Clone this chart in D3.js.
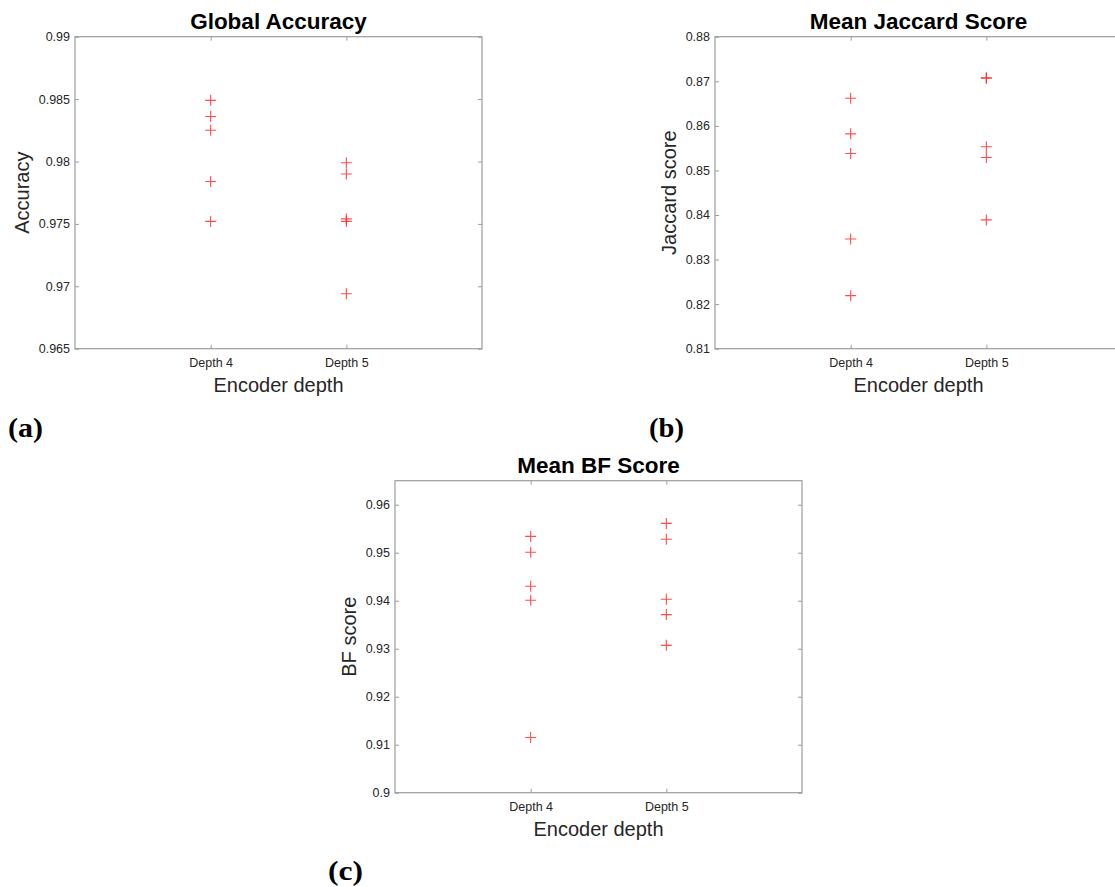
<!DOCTYPE html>
<html>
<head>
<meta charset="utf-8">
<script src="https://cdn.jsdelivr.net/npm/d3@7"></script>
<style>
  body { margin: 0; background: #fff; }
  svg { display: block; }
</style>
</head>
<body>
<script>
const width = 1115;
const height = 887;

// categories and read-off values
const categories = ["Depth 4", "Depth 5"];

const accuracyDepth4 = [0.9849, 0.9836, 0.9825, 0.9784, 0.9752];
const accuracyDepth5 = [0.9799, 0.9790, 0.9754, 0.9752, 0.9694];
const accuracyTicks = [0.965, 0.97, 0.975, 0.98, 0.985, 0.99];

const jaccardDepth4 = [0.8662, 0.8582, 0.8538, 0.8346, 0.8219];
const jaccardDepth5 = [0.8708, 0.8707, 0.8553, 0.8529, 0.8389];
const jaccardTicks = [0.81, 0.82, 0.83, 0.84, 0.85, 0.86, 0.87, 0.88];

const bfDepth4 = [0.9534, 0.9501, 0.9430, 0.9401, 0.9115];
const bfDepth5 = [0.9561, 0.9528, 0.9403, 0.9371, 0.9307];
const bfTicks = [0.9, 0.91, 0.92, 0.93, 0.94, 0.95, 0.96];

const panels = [
  {left: 75, top: 36.7, title: "Global Accuracy", ylabel: "Accuracy",
   ylim: [0.965, 0.99], ticks: accuracyTicks, series: [accuracyDepth4, accuracyDepth5],
   tag: "(a)", tagX: 8, tagY: 437},
  {left: 715, top: 36.7, title: "Mean Jaccard Score", ylabel: "Jaccard score",
   ylim: [0.81, 0.88], ticks: jaccardTicks, series: [jaccardDepth4, jaccardDepth5],
   tag: "(b)", tagX: 649, tagY: 437},
  {left: 395, top: 480.7, title: "Mean BF Score", ylabel: "BF score",
   ylim: [0.9, 0.965], ticks: bfTicks, series: [bfDepth4, bfDepth5],
   tag: "(c)", tagX: 328, tagY: 880}
];

const plotW = 407;
const plotH = 312;
const axisGray = "#262626";
const boxGray = "#9c9c9c";

let svg = d3.select("body").append("svg")
  .attr("width", width)
  .attr("height", height)
  .style("font-family", "'Liberation Sans', Arial, sans-serif");

panels.forEach(function(p) {
  let g = svg.append("g").attr("transform", `translate(${p.left},${p.top})`);

  let x = d3.scalePoint().domain(categories).range([0, plotW]).padding(1);
  let y = d3.scaleLinear().domain(p.ylim).range([plotH, 0]);

  // axes (ticks point inward like matlab)
  let yAxis = g.append("g")
    .call(d3.axisLeft(y).tickValues(p.ticks).tickFormat(d3.format("~g"))
      .tickSizeInner(-4).tickSizeOuter(0).tickPadding(5));
  g.append("g").attr("transform", `translate(${plotW},0)`)
    .call(d3.axisRight(y).tickValues(p.ticks).tickFormat("")
      .tickSizeInner(-4).tickSizeOuter(0));
  g.append("g").attr("transform", `translate(0,${plotH})`)
    .call(d3.axisBottom(x).tickSizeInner(-4).tickSizeOuter(0).tickPadding(9));
  g.append("g")
    .call(d3.axisTop(x).tickFormat("").tickSizeInner(-4).tickSizeOuter(0));

  g.selectAll(".domain").remove();
  g.selectAll(".tick line").attr("stroke", boxGray);
  g.selectAll(".tick text")
    .attr("fill", axisGray)
    .style("font-size", "12.5px")
    .style("font-family", "'Liberation Sans', Arial, sans-serif");

  g.append("rect")
    .attr("x", 0).attr("y", 0)
    .attr("width", plotW).attr("height", plotH)
    .attr("fill", "none")
    .attr("stroke", boxGray)
    .attr("stroke-width", 1.2);

  // plus markers
  p.series.forEach(function(vals, i) {
    let cx = x(categories[i]);
    g.selectAll(null)
      .data(vals)
      .enter().append("path")
      .attr("d", function(d) {
        let cy = y(d);
        return `M${cx - 5.5},${cy}H${cx + 5.5}M${cx},${cy - 5.5}V${cy + 5.5}`;
      })
      .attr("stroke", "#ff2020")
      .attr("stroke-opacity", 0.8)
      .attr("stroke-width", 1.1)
      .attr("fill", "none");
  });

  // title
  g.append("text")
    .attr("x", plotW / 2)
    .attr("y", -7.4)
    .attr("text-anchor", "middle")
    .style("font-size", "22.5px")
    .style("font-weight", "bold")
    .attr("fill", "#000")
    .text(p.title);

  // x label
  g.append("text")
    .attr("x", plotW / 2)
    .attr("y", plotH + 43)
    .attr("text-anchor", "middle")
    .style("font-size", "20px")
    .attr("fill", axisGray)
    .text("Encoder depth");

  // y label placed left of tick labels
  let bb = yAxis.node().getBBox();
  g.append("text")
    .attr("transform", `translate(${bb.x - 10},${plotH / 2}) rotate(-90)`)
    .attr("text-anchor", "middle")
    .style("font-size", "20px")
    .attr("fill", axisGray)
    .text(p.ylabel);

  // subfigure tag
  svg.append("text")
    .attr("x", p.tagX)
    .attr("y", p.tagY)
    .attr("textLength", 35)
    .attr("lengthAdjust", "spacingAndGlyphs")
    .style("font-family", "'Liberation Serif', 'DejaVu Serif', serif")
    .style("font-size", "27px")
    .style("font-weight", "bold")
    .attr("fill", "#000")
    .text(p.tag);
});
</script>
</body>
</html>
